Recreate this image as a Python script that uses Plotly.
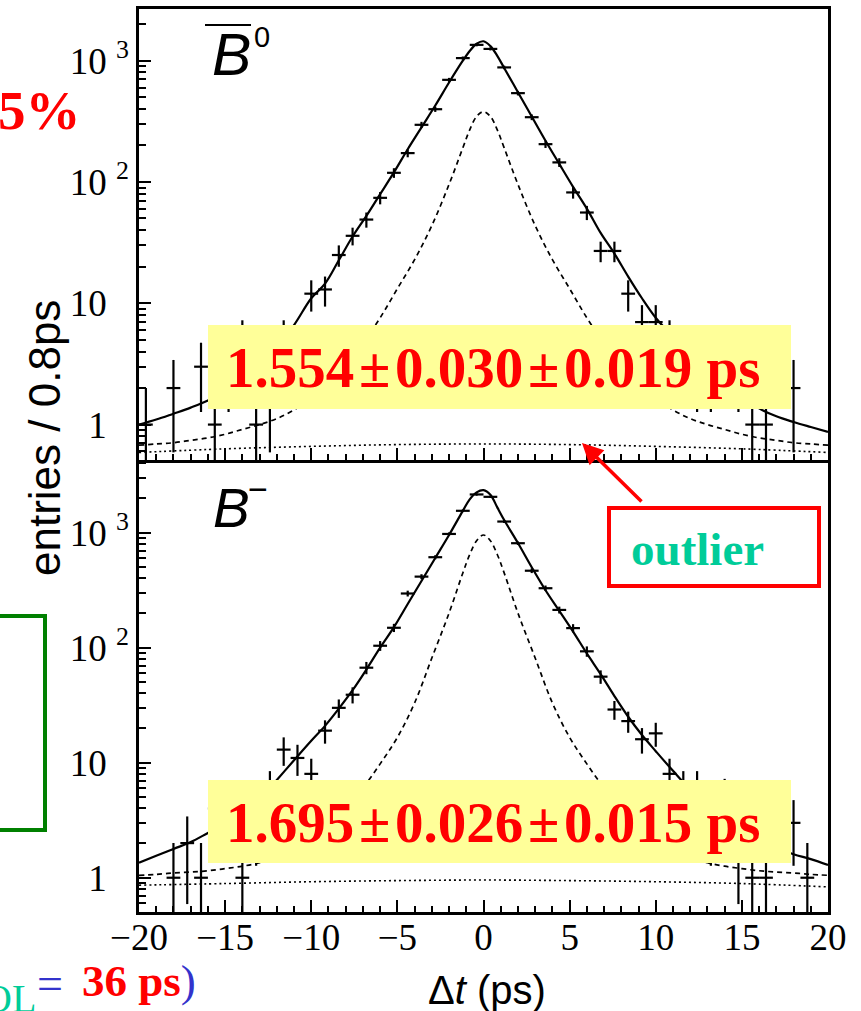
import plotly.graph_objects as go

W, H = 861, 1011


def px(x):
    return x / W


def py(y):
    return 1 - y / H


# ---------------- data: B0-bar (top panel) ----------------
t_top = [-19.6, -18.0, -16.4, -15.6, -14.8, -14.0, -13.2, -12.4, -11.6, -10.8,
         -10.0, -9.2, -8.4, -7.6, -6.8, -6.0, -5.2, -4.4, -3.6, -2.8, -2.0, -1.2,
         -0.4, 0.4, 1.2, 2.0, 2.8, 3.6, 4.4, 5.2, 6.0, 6.8, 7.6, 8.4, 9.2, 10.0,
         10.8, 11.6, 12.4, 13.2, 14.8, 15.6, 16.4, 18.0]
n_top = [1, 2, 3, 1, 3, 5, 1, 2, 5, 4,
         12, 13, 25, 36, 49, 74, 119, 173, 296, 398, 695, 1050,
         1350, 1250, 880, 540, 342, 205, 145, 82, 56, 27, 27, 12, 7, 7,
         5, 4, 3, 3, 3, 1, 1, 2]
e_top = [1.0, 1.41, 1.73, 1.0, 1.73, 2.24, 1.0, 1.41, 2.24, 2.0,
         3.46, 3.61, 5.0, 6.0, 7.0, 8.6, 10.9, 13.2, 17.2, 19.9, 26.4, 32.4,
         36.7, 35.4, 29.7, 23.2, 18.5, 14.3, 12.0, 9.1, 7.5, 5.2, 5.2, 3.46, 2.65, 2.65,
         2.24, 2.0, 1.73, 1.73, 1.73, 1.0, 1.0, 1.41]

fit_t_top = [-20, -19, -18, -17, -16, -15, -14, -13, -12, -11, -10.0, -9.2, -8.4,
             -7.6, -6.8, -6.0, -5.2, -4.4, -3.6, -2.8, -2.0, -1.2, -0.8, -0.4, 0.0,
             0.4, 0.8, 1.2, 2.0, 2.8, 3.6, 4.4, 5.2, 6.0, 6.8, 7.6, 8.4, 9.2, 10.0,
             11, 12, 13, 14, 15, 16, 17, 18, 19, 20]
fit_top = [1.0, 1.10, 1.23, 1.38, 1.58, 1.91, 2.34, 3.09, 4.37, 6.61, 11.0, 14.5, 22.6,
           35.5, 52.5, 79.4, 120, 186, 282, 427, 661, 1000, 1202, 1380, 1445,
           1318, 1096, 871, 550, 347, 219, 141, 91.2, 60.3, 38.0, 25.7, 16.6, 11.0, 7.59,
           5.25, 3.72, 2.75, 2.14, 1.70, 1.36, 1.17, 1.05, 0.955, 0.871]

comp_t = [-20, -19, -18, -17, -16, -15, -14, -13, -12, -11, -10, -9, -8, -7, -6,
          -5, -4, -3, -2, -1.2, -0.8, -0.4, 0, 0.4, 0.8, 1.2, 2, 3, 4, 5, 6, 7, 8,
          9, 10, 11, 12, 13, 14, 15, 16, 17, 18, 19, 20]
dash_top = [0.676, 0.692, 0.708, 0.741, 0.776, 0.832, 0.912, 1.0, 1.12, 1.32, 1.66,
            2.19, 3.09, 4.68, 7.59, 13.2, 22.9, 43.7, 95.5, 191, 269, 347, 380,
            347, 269, 191, 95.5, 43.7, 22.9, 13.2, 7.59, 4.68, 3.09, 2.19, 1.66,
            1.32, 1.12, 1.0, 0.912, 0.832, 0.776, 0.741, 0.708, 0.692, 0.676]

bkg_t = [-20, -15, -10, -5, 0, 5, 10, 15, 20]
bkg_top = [0.589, 0.631, 0.661, 0.684, 0.692, 0.684, 0.661, 0.631, 0.589]

# ---------------- data: B- (bottom panel) ----------------
t_bot = [-18.0, -17.2, -16.4, -15.6, -14.8, -14.0, -13.2, -12.4, -11.6, -10.8,
         -10.0, -9.2, -8.4, -7.6, -6.8, -6.0, -5.2, -4.4, -3.6, -2.8, -2.0, -1.2,
         -0.4, 0.4, 1.2, 2.0, 2.8, 3.6, 4.4, 5.2, 6.0, 6.8, 7.6, 8.4, 9.2, 10.0,
         10.8, 11.6, 12.4, 13.2, 14.0, 14.8, 15.6, 16.4, 18.0, 18.8]
n_bot = [1, 2, 1, 4, 4, 1, 3, 6, 13, 11,
         8, 19, 30, 39, 67, 104, 149, 296, 415, 612, 975, 1550,
         2150, 2050, 1250, 810, 467, 329, 213, 148, 93, 56, 29, 23, 16, 18,
         8, 6, 6, 3, 5, 2, 1, 1, 3, 1]
e_bot = [1.0, 1.41, 1.0, 2.0, 2.0, 1.0, 1.73, 2.45, 3.61, 3.32,
         2.83, 4.36, 5.48, 6.24, 8.19, 10.2, 12.2, 17.2, 20.4, 24.7, 31.2, 39.4,
         46.4, 45.3, 35.4, 28.5, 21.6, 18.1, 14.6, 12.2, 9.6, 7.5, 5.4, 4.8, 4.0, 4.24,
         2.83, 2.45, 2.45, 1.73, 2.24, 1.41, 1.0, 1.0, 1.73, 1.0]

fit_t_bot = fit_t_top
fit_bot = [1.35, 1.55, 1.78, 2.04, 2.45, 2.95, 3.63, 4.79, 7.08, 10.5, 15.5, 20.9, 29.5,
           42.7, 64.6, 100, 151, 240, 380, 603, 955, 1549, 1950, 2239, 2344,
           2138, 1660, 1288, 813, 501, 316, 209, 138, 89.1, 58.9, 38.0, 25.1, 17.4, 12.6,
           8.51, 5.89, 4.47, 3.39, 2.63, 2.14, 1.82, 1.60, 1.45, 1.29]
dash_bot = [1.05, 1.07, 1.10, 1.12, 1.15, 1.20, 1.26, 1.35, 1.51, 1.78, 2.19,
            2.88, 3.98, 6.03, 9.77, 16.6, 33.1, 81.3, 200, 447, 646, 851, 955,
            851, 646, 447, 200, 81.3, 33.1, 16.6, 9.77, 6.03, 3.98, 2.88, 2.19,
            1.78, 1.51, 1.35, 1.26, 1.20, 1.15, 1.12, 1.10, 1.07, 1.05]
bkg_bot = [0.861, 0.89, 0.923, 0.944, 0.955, 0.944, 0.923, 0.89, 0.832]

y_tickvals = [1, 10, 100, 1000]
_pad = "<sup><span style='color:rgba(0,0,0,0)'>0</span></sup>"
y_ticktext = ["1\u00a0" + _pad, "10\u00a0" + _pad, "10\u00a0<sup>2</sup>", "10\u00a0<sup>3</sup>"]
y_minor = [0.6, 0.7, 0.8, 0.9, 2, 3, 4, 5, 6, 7, 8, 9, 20, 30, 40, 50, 60, 70, 80, 90,
           200, 300, 400, 500, 600, 700, 800, 900, 2000, 3000, 4000]

fig = go.Figure()


def add_panel(xa, ya, t, n, e, ft, fit, ct, dsh, bt, bkg):
    fig.add_trace(go.Scatter(x=bt, y=bkg, mode="lines", xaxis=xa, yaxis=ya,
                             line=dict(color="black", width=1.6, dash="2px,3px", shape="spline"),
                             showlegend=False, hoverinfo="skip"))
    fig.add_trace(go.Scatter(x=ct, y=dsh, mode="lines", xaxis=xa, yaxis=ya,
                             line=dict(color="black", width=1.7, dash="5px,4px", shape="spline"),
                             showlegend=False, hoverinfo="skip"))
    fig.add_trace(go.Scatter(x=ft, y=fit, mode="lines", xaxis=xa, yaxis=ya,
                             line=dict(color="black", width=2.2, shape="spline"),
                             showlegend=False, hoverinfo="skip"))
    fig.add_trace(go.Scatter(x=t, y=n, mode="markers", xaxis=xa, yaxis=ya,
                             marker=dict(color="black", size=2),
                             error_x=dict(type="constant", value=0.4, width=0, thickness=2.2, color="black"),
                             error_y=dict(type="data", array=e, width=0, thickness=2.2, color="black"),
                             showlegend=False))


add_panel("x", "y", t_top, n_top, e_top, fit_t_top, fit_top, comp_t, dash_top, bkg_t, bkg_top)
add_panel("x2", "y2", t_bot, n_bot, e_bot, fit_t_bot, fit_bot, comp_t, dash_bot, bkg_t, bkg_bot)

tick_font = dict(family="Liberation Serif", size=37, color="black")
xcommon = dict(range=[-20, 20], tickmode="linear", tick0=0, dtick=5, ticks="inside",
               ticklen=12, tickwidth=2, tickcolor="black",
               minor=dict(ticks="inside", tick0=0, dtick=1, ticklen=6, tickwidth=1.6, tickcolor="black"),
               showline=True, linewidth=2.5, linecolor="black", automargin=False,
               showgrid=False, zeroline=False, tickfont=tick_font,
               domain=[px(139), px(828)])
ycommon = dict(type="log", tickmode="array", tickvals=y_tickvals, ticktext=y_ticktext,
               ticks="inside", ticklen=12, tickwidth=2, tickcolor="black",
               minor=dict(ticks="inside", tickmode="array", tickvals=y_minor, ticklen=7,
                          tickwidth=1.6, tickcolor="black"),
               showline=True, mirror=True, linewidth=2.5, linecolor="black", automargin=False,
               showgrid=False, zeroline=False, tickfont=tick_font, ticklabelstandoff=0)

fig.update_layout(
    width=W, height=H, margin=dict(l=0, r=0, t=0, b=0, pad=0, autoexpand=False),
    paper_bgcolor="white", plot_bgcolor="white", showlegend=False,
    xaxis=dict(anchor="y", showticklabels=False, mirror=True, **xcommon),
    yaxis=dict(anchor="x", domain=[py(460), py(9)], range=[-0.292, 3.426], **ycommon),
    xaxis2=dict(anchor="y2", showticklabels=True, mirror=False, ticklabelstandoff=-9, **xcommon),
    yaxis2=dict(anchor="x2", domain=[py(912), py(460)], range=[-0.298, 3.632], **ycommon),
)

shapes = [
    dict(type="rect", xref="paper", yref="paper", x0=px(208), x1=px(791), y0=py(409), y1=py(325),
         fillcolor="#FFFF99", line=dict(width=0), layer="above"),
    dict(type="rect", xref="paper", yref="paper", x0=px(208), x1=px(791), y0=py(863), y1=py(780),
         fillcolor="#FFFF99", line=dict(width=0), layer="above"),
    dict(type="rect", xref="paper", yref="paper", x0=px(609), x1=px(819), y0=py(586), y1=py(508),
         fillcolor="white", line=dict(color="#FF0000", width=4), layer="above"),
    dict(type="rect", xref="paper", yref="paper", x0=px(-10), x1=px(45), y0=py(830), y1=py(616),
         line=dict(color="#008000", width=4), layer="above"),
    dict(type="line", xref="paper", yref="paper", x0=px(205), x1=px(251), y0=py(25), y1=py(25),
         line=dict(color="black", width=2.2), layer="above"),
]
fig.update_layout(shapes=shapes)

ann = []


def A(text, x, y, size, color="black", family="Liberation Serif", xanchor="center", **kw):
    ann.append(dict(text=text, x=px(x), y=py(y), xref="paper", yref="paper", showarrow=False,
                    xanchor=xanchor, yanchor="middle",
                    font=dict(family=family, size=size, color=color), **kw))


A("<b>1.554\u200a±\u200a0.030\u200a±\u200a0.019 ps</b>", 494, 367, 57, "#FF0000")
A("<b>1.695\u200a±\u200a0.026\u200a±\u200a0.015 ps</b>", 494, 822, 57, "#FF0000")
A("<b>outlier</b>", 697, 549, 47, "#00CC99")
A("<i>B</i>", 231, 55, 59, family="Liberation Sans")
A("0", 262, 37, 29, family="Liberation Sans")
A("<i>B</i>", 231, 508, 55, family="Liberation Sans")
A("\u2212", 258, 489, 34, family="Liberation Sans")
A("\u0394<i>t</i> (ps)", 487, 990, 40, family="Liberation Sans")
A("entries / 0.8ps", 44, 438, 44, family="Liberation Sans", textangle=-90)
A("<b>5%</b>", 83, 110, 55, "#FF0000", xanchor="right")
A("OL", 38, 998, 40, "#00CC99", xanchor="right")
A("=", 50, 983, 46, "#3333CC")
A("<b><span style='color:#FF0000'>36 ps</span></b><span style='color:#3333CC'>)</span>",
  198, 981, 45, xanchor="right")

ann.append(dict(text="", x=px(582), y=py(443), xref="paper", yref="paper", showarrow=True,
                ax=61, ay=60, arrowhead=2, arrowsize=1.2, arrowwidth=3.5, arrowcolor="#FF0000"))
fig.update_layout(annotations=ann)

fig.write_html("out.html")
